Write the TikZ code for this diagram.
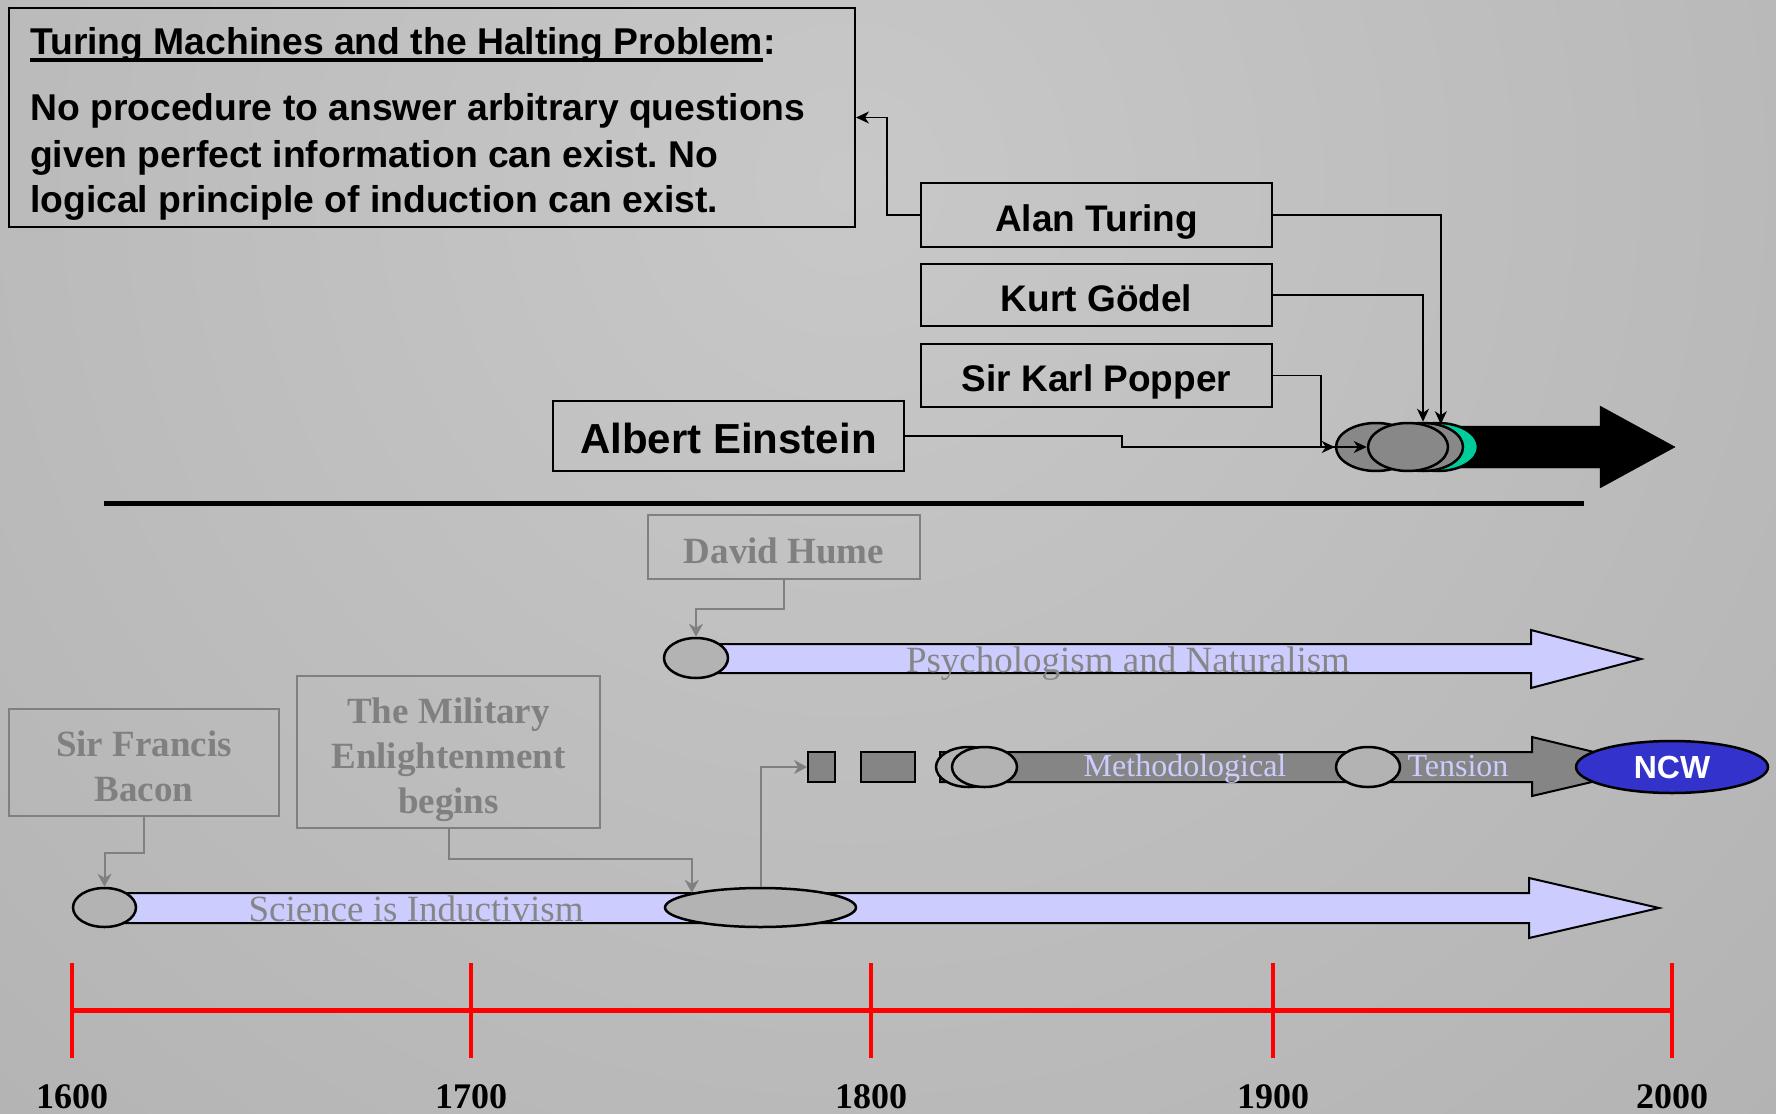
\documentclass[tikz,border=0pt]{standalone}
\usepackage{fontspec}
\setmainfont{Liberation Serif}
\setsansfont{Liberation Sans}
\usetikzlibrary{arrows.meta,shapes.geometric,calc}
\definecolor{lav}{HTML}{CCCCFF}
\definecolor{grayc}{HTML}{808080}
\definecolor{gtext}{HTML}{868686}
\definecolor{ovfill}{HTML}{B3B3B3}
\definecolor{dkfill}{HTML}{858585}
\definecolor{topell}{HTML}{888888}
\definecolor{greenell}{HTML}{00CC99}
\definecolor{ncwblue}{HTML}{3333CC}
\definecolor{bgl}{HTML}{C8C8C8}
\definecolor{bgd}{HTML}{A2A2A2}
\frenchspacing
\tikzset{
  tfont/.style={font=\sffamily\bfseries\fontsize{37.3}{45}\selectfont},
  blackbox/.style={rectangle, draw=black, line width=2pt, inner sep=0pt,
    font=\sffamily\bfseries\fontsize{37}{45}\selectfont, text height=32pt, text depth=0pt},
  graybox/.style={rectangle, draw=grayc, line width=2pt, inner sep=0pt, text=grayc,
    align=center, font=\rmfamily\bfseries\fontsize{37}{45}\selectfont, text depth=0pt},
  conn/.style={draw=black, line width=1.5pt, -{Stealth[length=13pt,width=12pt,inset=4pt]}},
  gconn/.style={draw=grayc, line width=2pt, -{Stealth[length=13pt,width=14pt,inset=4pt]}},
  oval/.style={ellipse, draw=black, line width=2.5pt, inner sep=0pt},
  yearlbl/.style={anchor=base, inner sep=0pt, font=\rmfamily\bfseries\fontsize{36}{40}\selectfont},
  redline/.style={draw=red, line width=5pt},
}
\begin{document}
\begin{tikzpicture}[x=1pt,y=-1pt]
\useasboundingbox (0,0) rectangle (1776,1113);
\begin{scope}
\clip (0,0) rectangle (1776,1113);
\shade[inner color=bgl, outer color=bgd] (850,180) circle (2400);
\end{scope}

% ---------- title box ----------
\node[rectangle, draw=black, line width=2pt, minimum width=846pt, minimum height=219pt, inner sep=0pt] (title) at (432,117.5) {};
\node[anchor=base west, inner sep=0pt, tfont] (ttl) at (30,55) {Turing Machines and the Halting Problem};
\node[anchor=base west, inner sep=0pt, tfont] (colon) at (ttl.base east) {:};
\draw[line width=3.5pt] ($(ttl.base west)+(0,5)$) -- ($(ttl.base east)+(0,5)$);
\node[anchor=base west, inner sep=0pt, tfont] (l1) at (30,121) {No procedure to answer arbitrary questions};
\node[anchor=base west, inner sep=0pt, tfont] (l2) at (30,167) {given perfect information can exist. No};
\node[anchor=base west, inner sep=0pt, tfont] (l3) at (30,212) {logical principle of induction can exist.};

% ---------- person boxes ----------
\node[blackbox, minimum width=351pt, minimum height=64pt] (turing) at (1096.5,215) {Alan Turing};
\node[blackbox, minimum width=351pt, minimum height=62pt] (godel) at (1096.5,295) {Kurt Gödel};
\node[blackbox, minimum width=351pt, minimum height=63pt] (popper) at (1096.5,375.5) {Sir Karl Popper};
\node[blackbox, minimum width=351pt, minimum height=70pt, text height=34pt,
      font=\sffamily\bfseries\fontsize{42}{50}\selectfont] (einstein) at (728.5,436) {Albert Einstein};

% ---------- black arrow with ellipses ----------
\filldraw[black] (1440,426) -- (1600,426) -- (1600,406) -- (1675,447) -- (1600,488) -- (1600,468) -- (1440,468) -- cycle;
\node[oval, fill=greenell, minimum width=80pt, minimum height=48pt] (ellG) at (1438,447) {};
\node[oval, fill=topell, minimum width=80pt, minimum height=48pt] (ellC) at (1423,447) {};
\node[oval, fill=topell, minimum width=80pt, minimum height=48pt] (ellA) at (1376,447) {};
\node[oval, fill=topell, minimum width=80pt, minimum height=48pt] (ellB) at (1408,447) {};

% separator line
\draw[line width=5pt] (104,503) -- (1584,503);

% ---------- connectors (top) ----------
\draw[conn] (turing.west) -- ++(-33,0) |- (title.east);
\draw[conn] (turing.east) -| (ellC.52);
\draw[conn] (godel.east) -| (ellC.north);
\draw[conn] (popper.east) -- ++(48,0) |- (ellA.west);
\draw[conn] (einstein.east) -- ++(217,0) |- (ellB.west);

% ---------- gray boxes ----------
\node[graybox, minimum width=272pt, minimum height=64pt, text height=33pt] (hume) at (784,547) {David Hume};
\node[graybox, minimum width=270pt, minimum height=107pt, text height=78pt] (bacon) at (144,762) {Sir Francis\\Bacon};
\node[graybox, minimum width=303pt, minimum height=152pt, text height=123pt] (mil) at (448.5,752) {The Military\\Enlightenment\\begins};

% ---------- Psychologism arrow ----------
\filldraw[fill=lav, draw=black, line width=2pt] (696,644) -- (1531,644) -- (1531,630) -- (1641,659) -- (1531,688) -- (1531,673) -- (696,673) -- cycle;
\node[anchor=base, inner sep=0pt, text=gtext, font=\rmfamily\fontsize{37}{45}\selectfont] (psytxt) at (1128,672) {Psychologism and Naturalism};
\node[oval, fill=ovfill, minimum width=64pt, minimum height=40pt] (psyell) at (696,658) {};

% ---------- Methodological Tension arrow ----------
\filldraw[fill=dkfill, draw=black, line width=2pt] (940,752) -- (1532,752) -- (1532,737) -- (1656,767) -- (1532,796) -- (1532,782) -- (940,782) -- cycle;
\node[rectangle, fill=dkfill, draw=black, line width=1.8pt, minimum width=27pt, minimum height=30pt, inner sep=0pt] (sq1) at (821.5,767) {};
\node[rectangle, fill=dkfill, draw=black, line width=1.8pt, minimum width=54pt, minimum height=30pt, inner sep=0pt] (sq2) at (888,767) {};
\node[oval, fill=ovfill, minimum width=65pt, minimum height=40pt] (me1) at (968.5,767) {};
\node[oval, fill=ovfill, minimum width=65pt, minimum height=40pt] (me2) at (984.5,767) {};
\node[oval, fill=ovfill, minimum width=64pt, minimum height=40pt] (tens) at (1368,767) {};
\node[anchor=base, inner sep=0pt, text=lav, font=\rmfamily\fontsize{32}{38}\selectfont] (mtxt) at (1185,776) {Methodological};
\node[anchor=base, inner sep=0pt, text=lav, font=\rmfamily\fontsize{32}{38}\selectfont] (ttxt) at (1458,776) {Tension};
\node[oval, fill=ncwblue, minimum width=192pt, minimum height=52pt, text=white,
      font=\sffamily\bfseries\fontsize{32}{38}\selectfont] (ncw) at (1672,767) {NCW};

% ---------- Science arrow ----------
\filldraw[fill=lav, draw=black, line width=2pt] (104,893) -- (1529,893) -- (1529,878) -- (1659,908) -- (1529,938) -- (1529,923) -- (104,923) -- cycle;
\node[anchor=base, inner sep=0pt, text=gtext, font=\rmfamily\fontsize{37}{45}\selectfont] (scitxt) at (416,921) {Science is Inductivism};
\node[oval, fill=ovfill, minimum width=63pt, minimum height=39pt] (scic) at (104.5,907.5) {};
\node[oval, fill=ovfill, minimum width=191pt, minimum height=39pt] (scie) at (760.5,907.5) {};

% ---------- gray connectors ----------
\draw[gconn] (hume.south) -- ++(0,29) -| (psyell.north);
\draw[gconn] (bacon.south) -- ++(0,36) -| (scic.north);
\draw[gconn] (mil.south) -- ++(0,30) -| (scie.168);
\draw[gconn] (scie.north) |- (sq1.west);

% ---------- timeline ----------
\draw[redline] (72,1010.5) -- (1672,1010.5);
\foreach \xx/\yr in {72/1600,471/1700,871/1800,1273/1900,1672/2000}{
  \draw[red, line width=4.5pt] (\xx,963) -- (\xx,1058);
  \node[yearlbl] (y\yr) at (\xx,1108) {\yr};
}
\end{tikzpicture}
\end{document}
